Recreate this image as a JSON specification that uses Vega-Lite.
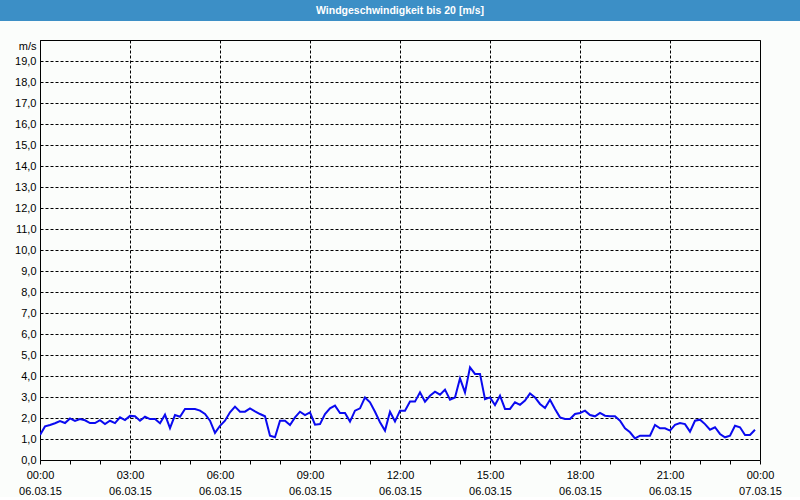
{
  "$schema": "https://vega.github.io/schema/vega-lite/v6.json",
  "background": "#fbfdfb",
  "padding": 0,
  "spacing": 19,
  "center": true,
  "bounds": "flush",
  "config": {
    "font": "Liberation Sans",
    "axis": {"labelFont": "Liberation Sans", "labelFontSize": 11, "labelColor": "#000000"}
  },
  "vconcat": [
    {
      "width": 800,
      "height": 21,
      "view": {"fill": "#3c8fc6", "stroke": null},
      "data": {"values": [{"label": "Windgeschwindigkeit bis 20 [m/s]"}]},
      "mark": {"type": "text", "color": "white", "font": "Liberation Sans", "fontWeight": "bold", "fontSize": 10.5, "baseline": "middle", "align": "center"},
      "encoding": {"text": {"field": "label"}}
    },
    {
      "width": 720,
      "height": 420,
      "view": {"stroke": "#000000", "strokeWidth": 1, "fill": null},
      "data": {"values": [
        {"min":0,"v":1.19},{"min":10,"v":1.6},{"min":20,"v":1.67},{"min":30,"v":1.75},{"min":40,"v":1.85},{"min":50,"v":1.76},
        {"min":60,"v":1.98},{"min":70,"v":1.86},{"min":80,"v":1.95},{"min":90,"v":1.89},{"min":100,"v":1.76},{"min":110,"v":1.76},
        {"min":120,"v":1.9},{"min":130,"v":1.71},{"min":140,"v":1.87},{"min":150,"v":1.76},{"min":160,"v":2.03},{"min":170,"v":1.9},
        {"min":180,"v":2.1},{"min":190,"v":2.08},{"min":200,"v":1.87},{"min":210,"v":2.06},{"min":220,"v":1.95},{"min":230,"v":1.95},
        {"min":240,"v":1.75},{"min":250,"v":2.16},{"min":260,"v":1.52},{"min":270,"v":2.14},{"min":280,"v":2.06},{"min":290,"v":2.43},
        {"min":300,"v":2.43},{"min":310,"v":2.43},{"min":320,"v":2.35},{"min":330,"v":2.19},{"min":340,"v":1.87},{"min":350,"v":1.29},
        {"min":360,"v":1.63},{"min":370,"v":1.87},{"min":380,"v":2.27},{"min":390,"v":2.54},{"min":400,"v":2.3},{"min":410,"v":2.3},
        {"min":420,"v":2.46},{"min":430,"v":2.32},{"min":440,"v":2.19},{"min":450,"v":2.08},{"min":460,"v":1.16},{"min":470,"v":1.08},
        {"min":480,"v":1.87},{"min":490,"v":1.87},{"min":500,"v":1.67},{"min":510,"v":2.03},{"min":520,"v":2.3},{"min":530,"v":2.14},
        {"min":540,"v":2.27},{"min":550,"v":1.68},{"min":560,"v":1.71},{"min":570,"v":2.19},{"min":580,"v":2.46},{"min":590,"v":2.59},
        {"min":600,"v":2.24},{"min":610,"v":2.24},{"min":620,"v":1.83},{"min":630,"v":2.35},{"min":640,"v":2.46},{"min":650,"v":2.98},
        {"min":660,"v":2.75},{"min":670,"v":2.3},{"min":680,"v":1.8},{"min":690,"v":1.4},{"min":700,"v":2.3},{"min":710,"v":1.83},
        {"min":720,"v":2.35},{"min":730,"v":2.35},{"min":740,"v":2.78},{"min":750,"v":2.78},{"min":760,"v":3.22},{"min":770,"v":2.78},
        {"min":780,"v":3.06},{"min":790,"v":3.25},{"min":800,"v":3.11},{"min":810,"v":3.35},{"min":820,"v":2.87},{"min":830,"v":2.98},
        {"min":840,"v":3.89},{"min":850,"v":3.22},{"min":860,"v":4.41},{"min":870,"v":4.1},{"min":880,"v":4.1},{"min":890,"v":2.9},
        {"min":900,"v":2.98},{"min":910,"v":2.62},{"min":920,"v":3.06},{"min":930,"v":2.43},{"min":940,"v":2.43},{"min":950,"v":2.75},
        {"min":960,"v":2.63},{"min":970,"v":2.83},{"min":980,"v":3.17},{"min":990,"v":2.98},{"min":1000,"v":2.67},{"min":1010,"v":2.48},
        {"min":1020,"v":2.87},{"min":1030,"v":2.43},{"min":1040,"v":2.03},{"min":1050,"v":1.95},{"min":1060,"v":1.95},{"min":1070,"v":2.19},
        {"min":1080,"v":2.24},{"min":1090,"v":2.35},{"min":1100,"v":2.14},{"min":1110,"v":2.08},{"min":1120,"v":2.24},{"min":1130,"v":2.11},
        {"min":1140,"v":2.08},{"min":1150,"v":2.08},{"min":1160,"v":1.87},{"min":1170,"v":1.51},{"min":1180,"v":1.32},{"min":1190,"v":1.03},
        {"min":1200,"v":1.16},{"min":1210,"v":1.16},{"min":1220,"v":1.16},{"min":1230,"v":1.67},{"min":1240,"v":1.51},{"min":1250,"v":1.51},
        {"min":1260,"v":1.4},{"min":1270,"v":1.67},{"min":1280,"v":1.76},{"min":1290,"v":1.71},{"min":1300,"v":1.35},{"min":1310,"v":1.87},
        {"min":1320,"v":1.92},{"min":1330,"v":1.71},{"min":1340,"v":1.44},{"min":1350,"v":1.56},{"min":1360,"v":1.24},{"min":1370,"v":1.08},
        {"min":1380,"v":1.16},{"min":1390,"v":1.63},{"min":1400,"v":1.56},{"min":1410,"v":1.19},{"min":1420,"v":1.19},{"min":1430,"v":1.44}
      ]},
      "mark": {"type": "line", "color": "#0a0af0", "strokeWidth": 2, "clip": true},
      "encoding": {
        "x": {
          "field": "min", "type": "quantitative",
          "scale": {"domain": [0, 1440], "nice": false, "zero": false},
          "axis": {
            "title": null,
            "values": [0,60,120,180,240,300,360,420,480,540,600,660,720,780,840,900,960,1020,1080,1140,1200,1260,1320,1380,1440],
            "labelExpr": "datum.value % 180 == 0 ? [(floor(datum.value / 60) % 24 < 10 ? '0' : '') + (floor(datum.value / 60) % 24) + ':00', datum.value < 1440 ? '06.03.15' : '07.03.15'] : ''",
            "labelOverlap": false,
            "labelFlush": false,
            "labelBound": false,
            "labelPadding": 5,
            "labelBaseline": "top",
            "labelLineHeight": 16,
            "domain": false,
            "ticks": true,
            "tickSize": 4,
            "tickColor": "#000000",
            "grid": true,
            "gridColor": "#000000",
            "gridDash": [3, 2],
            "gridOpacity": {"condition": {"test": "datum.value % 180 == 0", "value": 1}, "value": 0}
          }
        },
        "y": {
          "field": "v", "type": "quantitative",
          "scale": {"domain": [0, 20], "nice": false},
          "axis": {
            "title": null,
            "values": [0,1,2,3,4,5,6,7,8,9,10,11,12,13,14,15,16,17,18,19,20],
            "labelExpr": "datum.value == 20 ? 'm/s' : replace(format(datum.value, '.1f'), '.', ',')",
            "labelBaseline": {"condition": {"test": "datum.value == 20", "value": "top"}, "value": "middle"},
            "labelOverlap": false,
            "labelFlush": false,
            "labelPadding": 4,
            "ticks": false,
            "domain": false,
            "grid": true,
            "gridColor": "#000000",
            "gridDash": [3, 2]
          }
        }
      }
    }
  ]
}
